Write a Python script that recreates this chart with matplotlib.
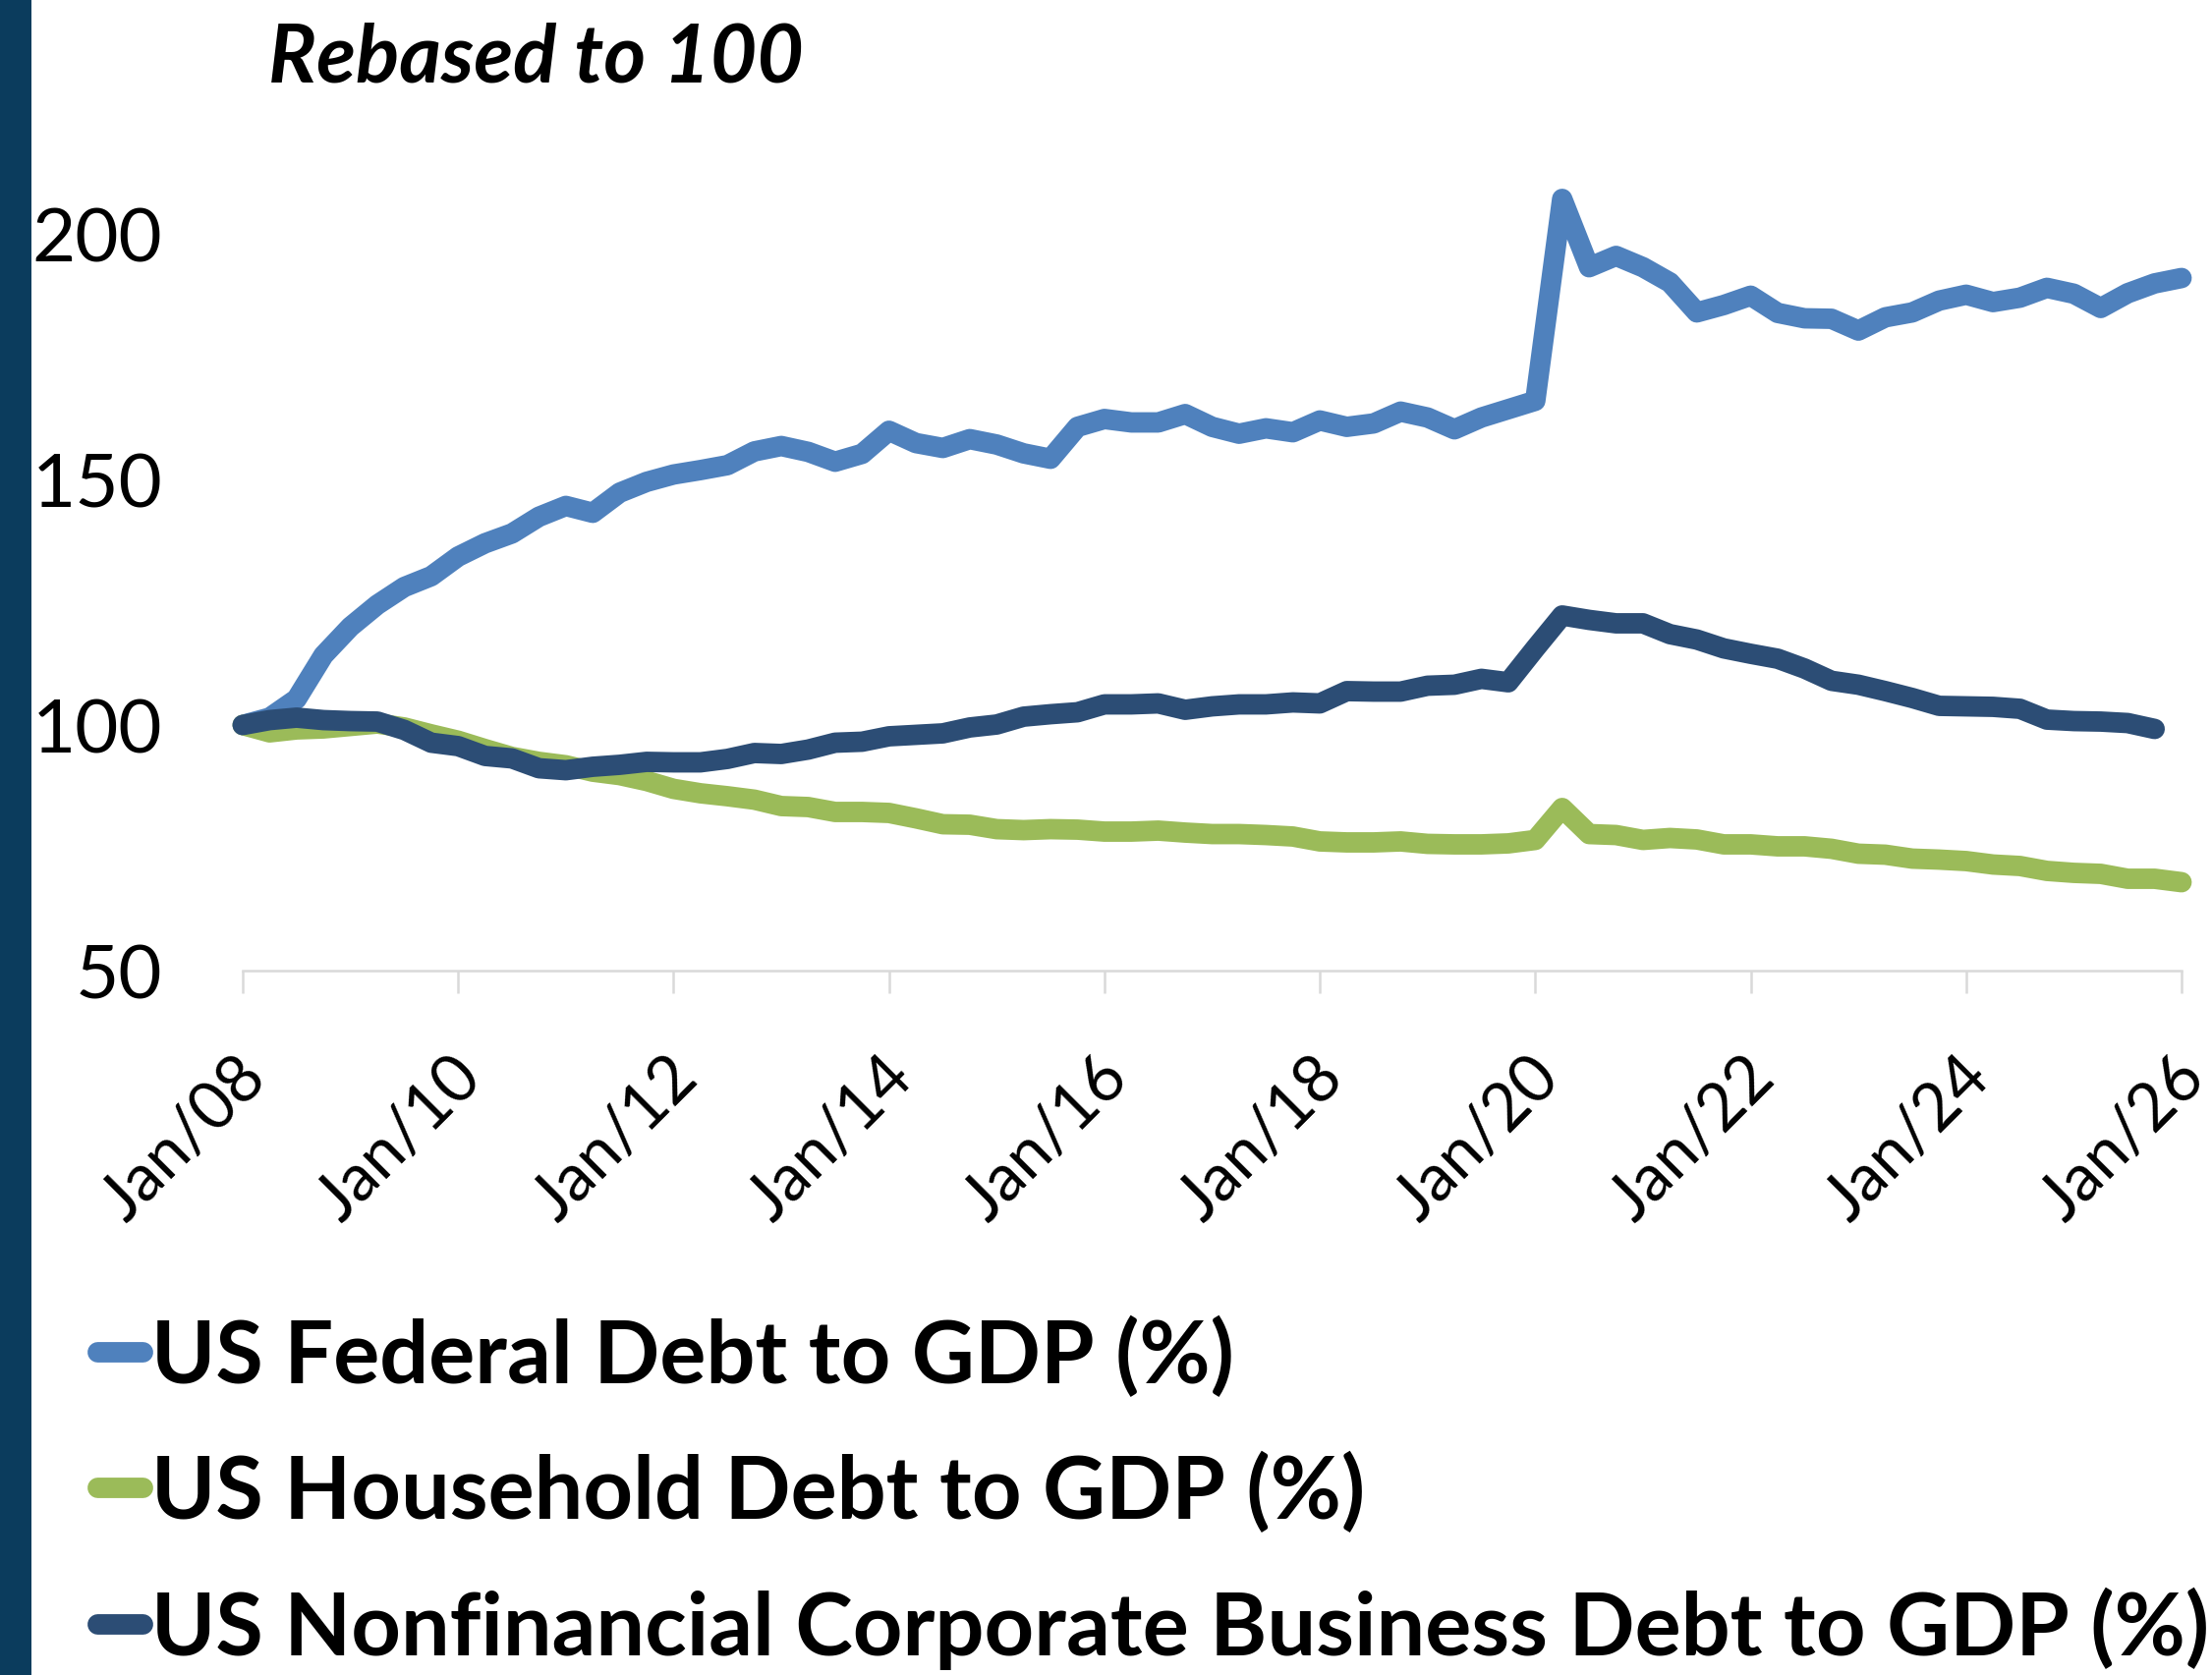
import matplotlib
matplotlib.use('Agg')
import matplotlib.pyplot as plt
import matplotlib.transforms as mtrans
import numpy as np

plt.rcParams['font.family'] = ['Lato', 'DejaVu Sans']

# quarterly readings from Q1 2008, rebased to 100
federal = [100.0, 101.5, 105.3, 114.2, 120.0, 124.5, 128.1, 130.3, 134.3, 137.0,
           139.0, 142.4, 144.6, 143.2, 147.3, 149.5, 151.0, 151.9, 152.9, 155.7,
           156.8, 155.6, 153.6, 155.2, 159.9, 157.4, 156.4, 158.2, 157.1, 155.3,
           154.2, 160.7, 162.3, 161.6, 161.6, 163.3, 160.7, 159.3, 160.4, 159.6,
           162.0, 160.7, 161.4, 163.8, 162.6, 160.2, 162.6, 164.3, 166.0, 207.1,
           193.2, 195.5, 193.2, 190.1, 184.0, 185.5, 187.4, 183.9, 182.8, 182.7,
           180.3, 183.0, 184.0, 186.4, 187.6, 186.1, 187.0, 189.0, 187.8, 184.9,
           187.9, 189.9, 191.0]
household = [100.0, 98.5, 99.1, 99.3, 99.8, 100.3, 99.5, 98.1, 96.8, 95.1,
             93.5, 92.5, 91.8, 90.5, 89.8, 88.6, 87.0, 86.1, 85.5, 84.8,
             83.5, 83.3, 82.3, 82.3, 82.1, 81.0, 79.8, 79.7, 78.8, 78.6,
             78.8, 78.7, 78.3, 78.3, 78.5, 78.1, 77.8, 77.8, 77.6, 77.3,
             76.3, 76.1, 76.1, 76.3, 75.8, 75.7, 75.7, 75.9, 76.6, 83.1,
             77.8, 77.6, 76.6, 77.0, 76.7, 75.7, 75.7, 75.3, 75.3, 74.8,
             73.8, 73.6, 72.8, 72.6, 72.3, 71.6, 71.3, 70.3, 69.9, 69.7,
             68.7, 68.7, 68.0]
corporate = [100.0, 101.0, 101.5, 101.0, 100.8, 100.7, 99.0, 96.4, 95.7, 93.7,
             93.2, 91.2, 90.8, 91.5, 91.9, 92.5, 92.4, 92.4, 93.1, 94.3,
             94.1, 95.0, 96.4, 96.6, 97.7, 98.0, 98.3, 99.5, 100.1, 101.7,
             102.2, 102.6, 104.2, 104.2, 104.4, 103.1, 103.8, 104.2, 104.2, 104.6,
             104.4, 106.9, 106.8, 106.8, 108.0, 108.2, 109.4, 108.7, 115.6, 122.3,
             121.4, 120.7, 120.7, 118.5, 117.4, 115.6, 114.5, 113.5, 111.5, 109.0,
             108.2, 106.9, 105.5, 103.9, 103.8, 103.7, 103.3, 101.1, 100.8, 100.7,
             100.4, 99.2]

labels = ['US Federal Debt to GDP (%)',
          'US Household Debt to GDP (%)',
          'US Nonfinancial Corporate Business Debt to GDP (%)']
colors = ['#4F81BD', '#9BBB59', '#2C4D75']
tick_years = [2008, 2010, 2012, 2014, 2016, 2018, 2020, 2022, 2024, 2026]
tick_labels = ['Jan/08', 'Jan/10', 'Jan/12', 'Jan/14', 'Jan/16',
               'Jan/18', 'Jan/20', 'Jan/22', 'Jan/24', 'Jan/26']
y_ticks = [50, 100, 150, 200]

W, H = 2251, 1706
fig = plt.figure(figsize=(W / 100, H / 100), dpi=100)
ax = fig.add_axes([247 / W, 1 - 989 / H, (2220 - 247) / W, (989 - 164) / H])

lines = []
for series, col, lab in zip([federal, household, corporate], colors, labels):
    x = 2008 + 0.25 * np.arange(len(series))
    ln, = ax.plot(x, series, color=col, lw=15, label=lab,
                  solid_capstyle='round', solid_joinstyle='round', clip_on=False)
    lines.append(ln)

ax.set_xlim(2008, 2026)
ax.set_ylim(50, 215)
for s in ['top', 'right', 'left']:
    ax.spines[s].set_visible(False)
ax.spines['bottom'].set_color('#D9D9D9')
ax.spines['bottom'].set_linewidth(1.8)

ax.set_yticks(y_ticks)
ax.tick_params(axis='y', length=0, pad=59, labelsize=55)
ax.set_xticks(tick_years)
ax.set_xticklabels(tick_labels, rotation=45, ha='right', va='top', rotation_mode='anchor')
ax.tick_params(axis='x', length=16.5, width=1.8, color='#D9D9D9', pad=38, labelsize=48)
shift = mtrans.ScaledTranslation(-6 / 72, 0, fig.dpi_scale_trans)
for lbl in ax.get_xticklabels():
    lbl.set_transform(lbl.get_transform() + shift)

# dark bar down the left edge
fig.add_artist(plt.Rectangle((0, 0), 32 / W, 1, transform=fig.transFigure,
                             color='#0B3C5D', lw=0))

fig.text(273 / W, 1 - 60 / H, 'Rebased to 100', fontsize=59, fontweight='bold',
         fontstyle='italic', ha='left', va='center')

fig.legend(handles=lines, labels=labels, loc='upper left',
           bbox_to_anchor=(99 / W, 1 - 1340 / H), bbox_transform=fig.transFigure,
           frameon=False, prop={'weight': 'bold', 'size': 63.5},
           handlelength=0.52, handletextpad=0.1, labelspacing=0.62,
           borderpad=0, borderaxespad=0)

fig.savefig('out.png', dpi=100)
